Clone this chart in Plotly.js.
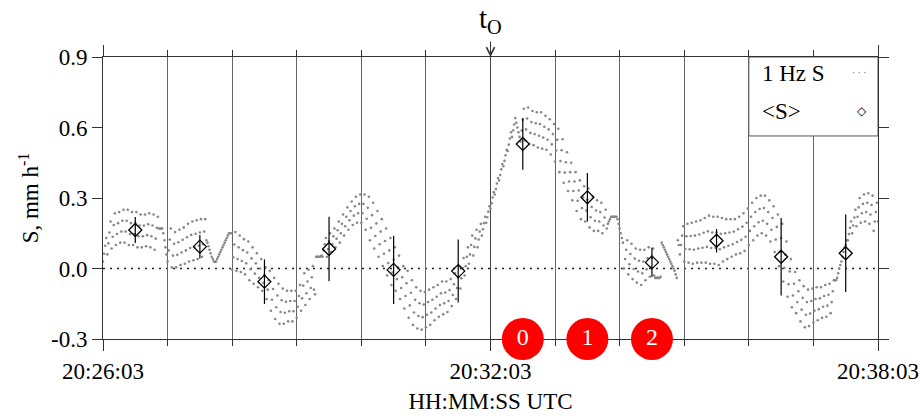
<!DOCTYPE html>
<html><head><meta charset="utf-8">
<script src="https://cdn.plot.ly/plotly-3.0.1.min.js"></script>
<style>html,body{margin:0;padding:0;background:#fff}#chart{width:921px;height:420px}</style>
</head><body><div id="chart"></div>
<script>
// 1 Hz S (mm/h), one array per minute starting 20:26:03
const min00 = [.03,.063,.097,.13, .06,.107,.153,.2, .085,.135,.185,.235, .1,.147,.193,.24, .11,.157,.203,.25, .11,.157,.203,.25, .1,.147,.193,.24, .1,.147,.193,.24, .09,.137,.183,.23, .09,.137,.183,.23, .095,.142,.188,.235, .09,.137,.183,.23, .08,.127,.173,.22, .17,.17,.17,.17,.15,.12,.09,.06];
const min01 = [.03,.077,.123,.17, .005,.055,.105,.155, .005,.058,.112,.165, .015,.068,.122,.175, .02,.077,.133,.19, .03,.087,.143,.2, .035,.092,.148,.205, .04,.097,.153,.21, .05,.103,.157,.21, .12,.11,.095,.08,.065,.05,.04,.03,.028,.03,.04,.05,.06,.07,.08,.09,.1,.11,.12,.13,.14,.15,.15,.15];
const min02 = [-.005,.048,.102,.155, -.01,.04,.09,.14, -.015,.032,.078,.125, -.025,.022,.068,.115, -.05,-.003,.043,.09, -.065,-.022,.022,.065, -.08,-.04,0,.04, -.095,-.062,-.028,.005, -.13,-.09,-.05,-.01, -.18,-.133,-.087,-.04, -.215,-.165,-.115,-.065, -.235,-.185,-.135,-.085, -.235,-.188,-.142,-.095, -.225,-.182,-.138,-.095, -.225,-.182,-.138,-.095];
const min03 = [-.21,-.163,-.117,-.07, -.18,-.127,-.073,-.02, -.155,-.105,-.055,-.005, -.13,-.083,-.037,.01, -.09,-.11,.05,.05,.05,.05,.05,.055, .05,.077,.103,.13, .05,.083,.117,.15, .07,.103,.137,.17, .09,.127,.163,.2, .11,.15,.19,.23, .14,.18,.22,.26, .165,.205,.245,.285, .185,.225,.265,.305, .195,.235,.275,.315];
const min04 = [.195,.235,.275,.315, .165,.212,.258,.305, .12,.173,.227,.28, .085,.138,.192,.245, .05,.103,.157,.21, .01,.063,.117,.17, -.03,.023,.077,.13, -.07,-.017,.037,.09, -.095,-.045,.005,.055, -.13,-.083,-.037,.01, -.17,-.117,-.063,-.01, -.21,-.157,-.103,-.05, -.24,-.187,-.133,-.08, -.255,-.202,-.148,-.095, -.26,-.207,-.153,-.1];
const min05 = [-.25,-.197,-.143,-.09, -.24,-.187,-.133,-.08, -.22,-.17,-.12,-.07, -.205,-.155,-.105,-.055, -.195,-.148,-.102,-.055, -.185,-.138,-.092,-.045, -.16,-.113,-.067,-.02, -.13,-.083,-.037,.01, -.085,-.042,.002,.045, -.03,.01,.05,.09, .02,.06,.1,.14, .055,.092,.128,.165, .09,.123,.157,.19, .14,.167,.193,.22, .195,.218,.242,.265];
const min06 = [.255,.278,.302,.325, .315,.338,.362,.385, .375,.398,.422,.445, .435,.458,.482,.505, .5,.527,.553,.58, .56,.587,.613,.64, .62,.6,.58,.56, .54,.587,.633,.68, .545,.592,.638,.685, .53,.577,.623,.67, .525,.572,.618,.665, .515,.565,.615,.665, .51,.557,.603,.65, .505,.548,.592,.635, .485,.528,.572,.615];
const min07 = [.455,.502,.548,.595, .41,.457,.503,.55, .365,.408,.452,.495, .33,.37,.41,.45, .29,.33,.37,.41, .245,.288,.332,.375, .21,.257,.303,.35, .2,.247,.293,.34, .175,.218,.262,.305, .16,.203,.247,.29, .16,.2,.24,.28, .15,.183,.217,.25, .17,.19,.2,.21,.22,.22,.22,.22,.22,.22,.21,.19];
const min08 = [.17,.15,.13,.11, 0,.04,.08,.12, -.025,.018,.062,.105, -.045,-.002,.042,.085, -.06,-.013,.033,.08, -.07,-.02,.03,.08, -.05,-.003,.043,.09, -.035,.005,.045,.085, -.03,-.04,-.04,-.04,-.04,-.04,-.035,.11,.1,.09,.08,.07,.06,.05,.04,.03,.02,.01,0,-.01,-.025,-.04,.12,.1, .06,.1,.14,.18];
const min09 = [.03,.083,.137,.19, .025,.082,.138,.195, .02,.08,.14,.2, .025,.085,.145,.205, .025,.088,.152,.215, .025,.092,.158,.225, .02,.087,.153,.22, .02,.087,.153,.22, .015,.082,.148,.215, .03,.09,.15,.21, .04,.097,.153,.21, .05,.103,.157,.21, .06,.113,.167,.22, .065,.122,.178,.235, .075,.135,.195,.255];
const min10 = [.1,.16,.22,.28, .12,.18,.24,.3, .14,.197,.253,.31, .15,.203,.257,.31, .14,.19,.24,.29, .115,.165,.215,.265, .07,.123,.177,.23, .01,.07,.13,.19, -.055,.002,.058,.115, -.12,-.067,-.013,.04, -.165,-.115,-.065,-.015, -.19,-.143,-.097,-.05, -.225,-.175,-.125,-.075, -.25,-.197,-.143,-.09, -.245,-.192,-.138,-.085];
const min11 = [-.23,-.18,-.13,-.08, -.22,-.173,-.127,-.08, -.21,-.163,-.117,-.07, -.205,-.158,-.112,-.065, -.19,-.143,-.097,-.05, -.05,-.05,-.04,-.02,0,.015,.03,.05,.07,.09,.1,.12, .12,.147,.173,.2, .15,.183,.217,.25, .18,.22,.26,.3, .195,.235,.275,.315, .2,.24,.28,.32, .19,.23,.27,.31, .16,.2,.24,.28];
const lastSample = [.2];

// minute means <S> (seconds after 20:26:03)
const meanTimes  = [30, 90, 150, 210, 270, 330, 390, 450, 510, 570, 630, 690];
const meanValues = [0.164, 0.093, -0.056, 0.083, -0.006, -0.011, 0.53, 0.303, 0.026, 0.118, 0.05, 0.065];
const meanErrors = [0.055, 0.05, 0.095, 0.137, 0.145, 0.134, 0.11, 0.103, 0.062, 0.05, 0.165, 0.165];

// numbered events on the time axis
const eventTimes  = [390, 450, 510];
const eventLevel  = [-0.3, -0.3, -0.3];
const eventLabels = ['0', '1', '2'];

const tO = 360;
const xTickVals = [0, 360, 720];
const xTickText = ['20:26:03', '20:32:03', '20:38:03'];
const yTickVals = [-0.3, 0, 0.3, 0.6, 0.9];
const yTickText = ['-0.3', '0.0', '0.3', '0.6', '0.9'];

const rate = [].concat(min00, min01, min02, min03, min04, min05, min06, min07, min08, min09, min10, min11, lastSample);
const rateTimes = rate.map((_, i) => i);

const FONT = '"Liberation Serif", "Times New Roman", Times, serif';
const AX = '#333';

const traces = [
  { x: rateTimes, y: rate, type: 'scatter', mode: 'markers',
    marker: { size: 2.6, color: '#888' }, hoverinfo: 'skip' },
  { x: meanTimes, y: meanValues, type: 'scatter', mode: 'markers',
    marker: { symbol: 'diamond-open', size: 10, color: '#000', line: { width: 1.3, color: '#000' } },
    error_y: { type: 'data', array: meanErrors, visible: true, color: '#000', thickness: 1.2, width: 0 } },
  { x: eventTimes, y: eventLevel, type: 'scatter', mode: 'markers+text', cliponaxis: false,
    marker: { size: 42, color: '#ff0000' }, text: eventLabels, textposition: 'middle center',
    textfont: { family: FONT, size: 24, color: '#fff' } }
];

const layout = {
  width: 921, height: 420,
  margin: { l: 103, r: 43, t: 57, b: 81 },
  paper_bgcolor: '#fff', plot_bgcolor: '#fff',
  showlegend: false,
  font: { family: FONT, size: 23, color: '#000' },
  xaxis: {
    range: [0, 720], tickmode: 'array', tickvals: xTickVals, ticktext: xTickText,
    ticks: 'outside', ticklen: 11, tickcolor: AX, tickwidth: 1,
    showline: true, linecolor: AX, linewidth: 1, mirror: 'allticks',
    showgrid: true, gridcolor: '#444', gridwidth: 1, zeroline: false,
    minor: { tickmode: 'linear', tick0: 0, dtick: 60, ticks: 'outside', ticklen: 6, tickcolor: AX, showgrid: true, gridcolor: '#666', gridwidth: 1 },
    layer: 'below traces', ticklabelstandoff: 0,
    tickfont: { family: FONT, size: 23, color: '#000' },
    title: { text: 'HH:MM:SS UTC', font: { family: FONT, size: 23, color: '#000' }, standoff: 10 }
  },
  yaxis: {
    range: [-0.3, 0.9], tickmode: 'array', tickvals: yTickVals, ticktext: yTickText,
    ticks: 'outside', ticklen: 10, tickcolor: AX, tickwidth: 1,
    showline: true, linecolor: AX, linewidth: 1, mirror: 'ticks',
    showgrid: false, zeroline: false, layer: 'below traces',
    tickfont: { family: FONT, size: 23, color: '#000' },
    title: { text: 'S, mm h<sup>-1</sup>', font: { family: FONT, size: 23, color: '#000' }, standoff: 5 }
  },
  shapes: [
    { type: 'line', xref: 'paper', x0: 0, x1: 1, yref: 'y', y0: 0, y1: 0,
      line: { color: '#222', width: 1.5, dash: '2px,5px' }, layer: 'below' },
    { type: 'rect', xref: 'x', x0: 600, x1: 720, yref: 'y', y0: 0.564, y1: 0.9,
      fillcolor: '#fff', line: { color: '#555', width: 1 }, layer: 'above' }
  ],
  annotations: [
    { x: tO, y: 0.9, xref: 'x', yref: 'y', ax: 0, ay: -17, text: '', showarrow: true,
      arrowhead: 5, arrowsize: 1.6, arrowwidth: 1, arrowcolor: AX, standoff: 0 },
    { x: tO, y: 1, xref: 'x', yref: 'paper', yanchor: 'bottom', yshift: 17, showarrow: false,
      text: 't<sub>O</sub>', font: { family: FONT, size: 29, color: '#000' } },
    { x: 610, y: 0.828, xref: 'x', yref: 'y', xanchor: 'left', showarrow: false,
      text: '1 Hz S', font: { family: FONT, size: 23, color: '#000' } },
    { x: 610, y: 0.67, xref: 'x', yref: 'y', xanchor: 'left', showarrow: false,
      text: '&lt;S&gt;', font: { family: FONT, size: 23, color: '#000' } },
    { x: 702, y: 0.83, xref: 'x', yref: 'y', showarrow: false,
      text: '· · ·', font: { family: 'DejaVu Sans', size: 9, color: '#666' } },
    { x: 705, y: 0.67, xref: 'x', yref: 'y', showarrow: false,
      text: '◇', font: { family: 'DejaVu Sans', size: 12, color: '#000' } }
  ]
};

Plotly.newPlot('chart', traces, layout, { displayModeBar: false, staticPlot: true });
</script>
</body></html>
